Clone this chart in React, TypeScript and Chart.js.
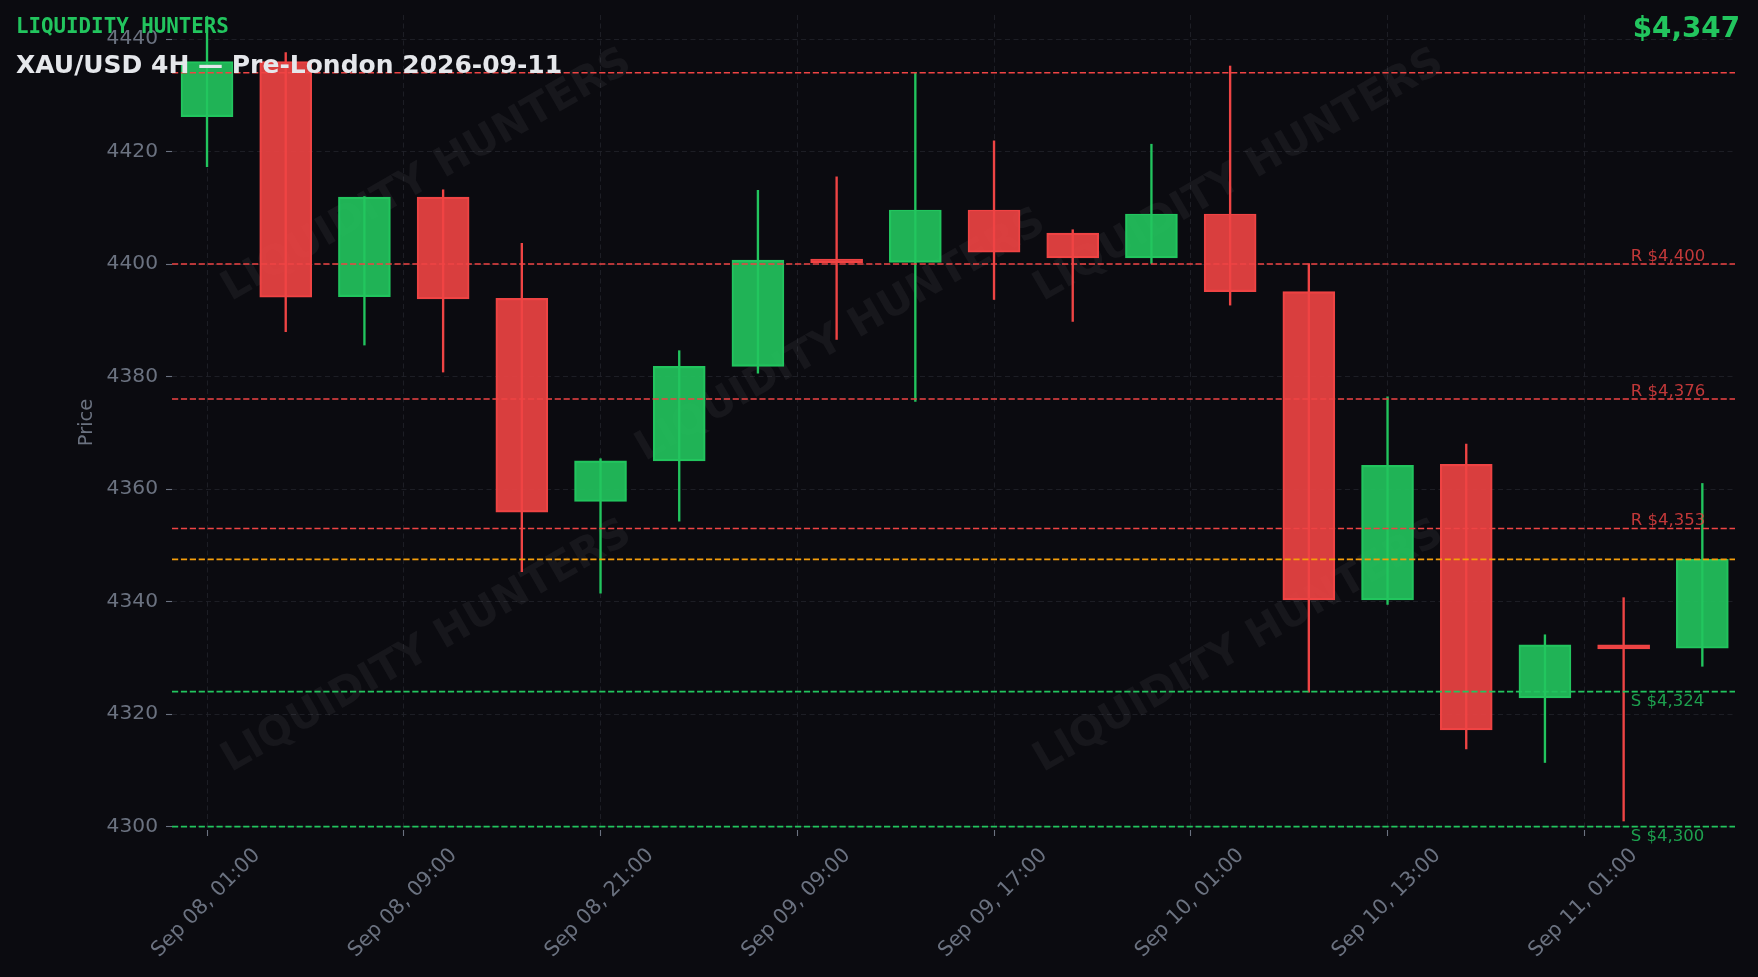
import React, { useEffect, useRef } from "react";
import { Chart, registerables } from "chart.js";

Chart.register(...registerables);

// ---- data ----
const opens = [4426.2, 4436.0, 4394.2, 4411.9, 4393.9, 4357.8, 4365.0, 4381.8, 4400.9, 4400.3, 4409.6, 4405.5, 4401.1, 4408.9, 4395.1, 4340.3, 4364.4, 4322.9, 4332.3, 4331.7];
const highs = [4444.0, 4437.6, 4412.0, 4413.2, 4403.7, 4365.4, 4384.6, 4413.1, 4415.5, 4434.0, 4421.9, 4406.1, 4421.3, 4435.2, 4400.1, 4376.4, 4368.0, 4334.1, 4340.7, 4361.0];
const lows = [4417.3, 4388.0, 4385.6, 4380.8, 4345.3, 4341.5, 4354.3, 4380.6, 4386.6, 4375.6, 4393.7, 4389.8, 4400.1, 4392.7, 4323.9, 4339.5, 4313.8, 4311.4, 4301.0, 4328.5];
const closes = [4436.0, 4394.1, 4411.9, 4393.8, 4355.9, 4365.0, 4381.8, 4400.7, 4400.2, 4409.6, 4402.1, 4401.1, 4408.9, 4395.1, 4340.3, 4364.2, 4317.2, 4332.3, 4331.6, 4347.5];

const resistanceLevels = [4400, 4376, 4353];
const supportLevels = [4324, 4300];
const recentHigh = 4434;
const currentPrice = 4347.5;

const xTickValues = [0, 2.5, 5, 7.5, 10, 12.5, 15, 17.5];
const xTickLabels = ["Sep 08, 01:00", "Sep 08, 09:00", "Sep 08, 21:00", "Sep 09, 09:00", "Sep 09, 17:00", "Sep 10, 01:00", "Sep 10, 13:00", "Sep 11, 01:00"];
const yTickValues = [4300, 4320, 4340, 4360, 4380, 4400, 4420, 4440];

const BRAND = "LIQUIDITY HUNTERS";
const TITLE = "XAU/USD 4H — Pre-London 2026-09-11";
const PRICE_TEXT = "$4,347";

// ---- style ----
const X_MIN = -0.445;
const X_MAX = 19.415;
const Y_MIN = 4299.4;
const Y_MAX = 4444.27;
const LABEL_X = 18.09;

const BG = "#0b0b10";
const GRID = "#22232b";
const TICK_TEXT = "#6b7280";
const GREEN = "#22c55e";
const RED = "#ef4444";
const ORANGE = "#f59e0b";
const GREEN_FILL = "rgba(34,197,94,0.9)";
const RED_FILL = "rgba(239,68,68,0.9)";
const FONT = '"DejaVu Sans"';

const watermarkCenters: [number, number][] = [
  [427, 176],
  [1239, 176],
  [841, 336],
  [427, 647],
  [1239, 647],
];

const fmt = (v: number) => "$" + v.toLocaleString("en-US");

const overlayPlugin = {
  id: "overlay",
  beforeDatasetsDraw(chart: any) {
    const { ctx, chartArea } = chart;
    ctx.save();
    ctx.beginPath();
    ctx.rect(chartArea.left, chartArea.top, chartArea.right - chartArea.left, chartArea.bottom - chartArea.top);
    ctx.clip();
    ctx.font = `bold 41px ${FONT}`;
    ctx.fillStyle = "rgba(255,255,255,0.05)";
    ctx.textAlign = "center";
    ctx.textBaseline = "middle";
    for (const [cx, cy] of watermarkCenters) {
      ctx.save();
      ctx.translate(cx, cy);
      ctx.rotate((-30 * Math.PI) / 180);
      ctx.fillText(BRAND, 0, 0);
      ctx.restore();
    }
    ctx.restore();
  },
  afterDraw(chart: any) {
    const { ctx, chartArea } = chart;
    const xs = chart.scales.x;
    const ys = chart.scales.y;
    ctx.save();
    // x tick labels (rotated, centred on tick)
    ctx.font = `20.6px ${FONT}`;
    ctx.fillStyle = TICK_TEXT;
    ctx.textAlign = "center";
    ctx.textBaseline = "middle";
    xTickValues.forEach((v, i) => {
      const px = xs.getPixelForValue(v);
      ctx.save();
      ctx.translate(px - 1, chartArea.bottom + 73);
      ctx.rotate(-Math.PI / 4);
      ctx.fillText(xTickLabels[i], 0, 0);
      ctx.restore();
    });
    // level labels
    ctx.font = `16.5px ${FONT}`;
    ctx.textAlign = "left";
    ctx.textBaseline = "alphabetic";
    const lx = xs.getPixelForValue(LABEL_X);
    resistanceLevels.forEach((v) => {
      ctx.fillStyle = "rgba(239,68,68,0.8)";
      ctx.fillText("R " + fmt(v), lx, ys.getPixelForValue(v) - 3);
    });
    supportLevels.forEach((v) => {
      ctx.fillStyle = "rgba(34,197,94,0.8)";
      ctx.fillText("S " + fmt(v), lx, ys.getPixelForValue(v) + 14.5);
    });
    // header texts
    ctx.font = `bold 20.8px "DejaVu Sans Mono"`;
    ctx.fillStyle = GREEN;
    ctx.fillText(BRAND, 16, 33);
    ctx.font = `bold 25px ${FONT}`;
    ctx.fillStyle = "#e5e7eb";
    ctx.fillText(TITLE, 16, 73);
    ctx.font = `bold 27.8px ${FONT}`;
    ctx.fillStyle = GREEN;
    ctx.textAlign = "right";
    ctx.fillText(PRICE_TEXT, 1740, 37);
    ctx.restore();
  },
};

export default function App() {
  const ref = useRef<HTMLCanvasElement>(null);
  useEffect(() => {
    const canvas = ref.current;
    if (!canvas) return;
    const idx = opens.map((_, i) => i);
    const up = idx.map((i) => closes[i] >= opens[i]);
    const levelLine = (value: number, color: string) => ({
      type: "line" as const,
      data: [
        { x: X_MIN, y: value },
        { x: X_MAX, y: value },
      ],
      borderColor: color,
      borderWidth: 1.6,
      borderDash: [6.2, 2.7],
      pointRadius: 0,
      fill: false,
      order: 0,
    });
    const chart = new Chart(canvas, {
      type: "bar",
      data: {
        datasets: [
          {
            type: "bar",
            label: "wicks",
            data: idx.map((i) => ({ x: i, y: [lows[i], highs[i]] })) as any,
            backgroundColor: idx.map((i) => (up[i] ? GREEN : RED)),
            borderWidth: 0,
            barThickness: 1.7,
            grouped: false,
            order: 3,
          },
          {
            type: "bar",
            label: "bodies",
            data: idx.map((i) => ({ x: i, y: [opens[i], closes[i]] })) as any,
            backgroundColor: idx.map((i) => (up[i] ? GREEN_FILL : RED_FILL)),
            borderColor: idx.map((i) => (up[i] ? GREEN : RED)),
            borderWidth: 1.5,
            borderSkipped: false,
            barThickness: 52,
            grouped: false,
            order: 2,
          },
          levelLine(recentHigh, RED),
          ...resistanceLevels.map((v) => levelLine(v, RED)),
          levelLine(currentPrice, ORANGE),
          ...supportLevels.map((v) => levelLine(v, GREEN)),
        ] as any,
      },
      options: {
        responsive: false,
        animation: false,
        layout: { padding: { top: 15, right: 23, left: 0, bottom: 0 } },
        plugins: { legend: { display: false }, tooltip: { enabled: false } },
        scales: {
          x: {
            type: "linear",
            min: X_MIN,
            max: X_MAX,
            offset: false,
            grid: {
              color: GRID,
              lineWidth: 0.8,
              drawTicks: true,
              tickLength: 6,
              tickColor: TICK_TEXT,
              tickWidth: 1.1,
              tickBorderDash: [],
              offset: false,
            },
            border: { display: false, dash: [5, 3.5] },
            ticks: { display: false },
            afterBuildTicks: (s: any) => {
              s.ticks = xTickValues.map((v) => ({ value: v }));
            },
            afterFit: (s: any) => {
              s.height = 147;
              s.paddingLeft = 0;
              s.paddingRight = 0;
            },
          },
          y: {
            type: "linear",
            position: "left",
            min: Y_MIN,
            max: Y_MAX,
            grid: {
              color: GRID,
              lineWidth: 0.8,
              drawTicks: true,
              tickLength: 6,
              tickColor: TICK_TEXT,
              tickWidth: 1.1,
              tickBorderDash: [],
            },
            border: { display: false, dash: [5, 3.5] },
            ticks: {
              color: TICK_TEXT,
              font: { family: "DejaVu Sans", size: 20.2 },
              padding: 8,
              autoSkip: false,
              callback: (v: any) => String(v),
            },
            afterBuildTicks: (s: any) => {
              s.ticks = yTickValues.map((v) => ({ value: v }));
            },
            title: {
              display: true,
              text: "Price",
              color: TICK_TEXT,
              font: { family: "DejaVu Sans", size: 19.4 },
              padding: { top: 75, bottom: 0 },
            },
            afterFit: (s: any) => {
              s.width = 172;
              s.paddingTop = 0;
              s.paddingBottom = 0;
            },
          },
        },
      } as any,
      plugins: [overlayPlugin],
    });
    return () => chart.destroy();
  }, []);
  return (
    <div style={{ position: "fixed", left: 0, top: 0, width: 1758, height: 977, background: BG }}>
      <canvas ref={ref} width={1758} height={977} style={{ display: "block", width: 1758, height: 977 }} />
    </div>
  );
}
